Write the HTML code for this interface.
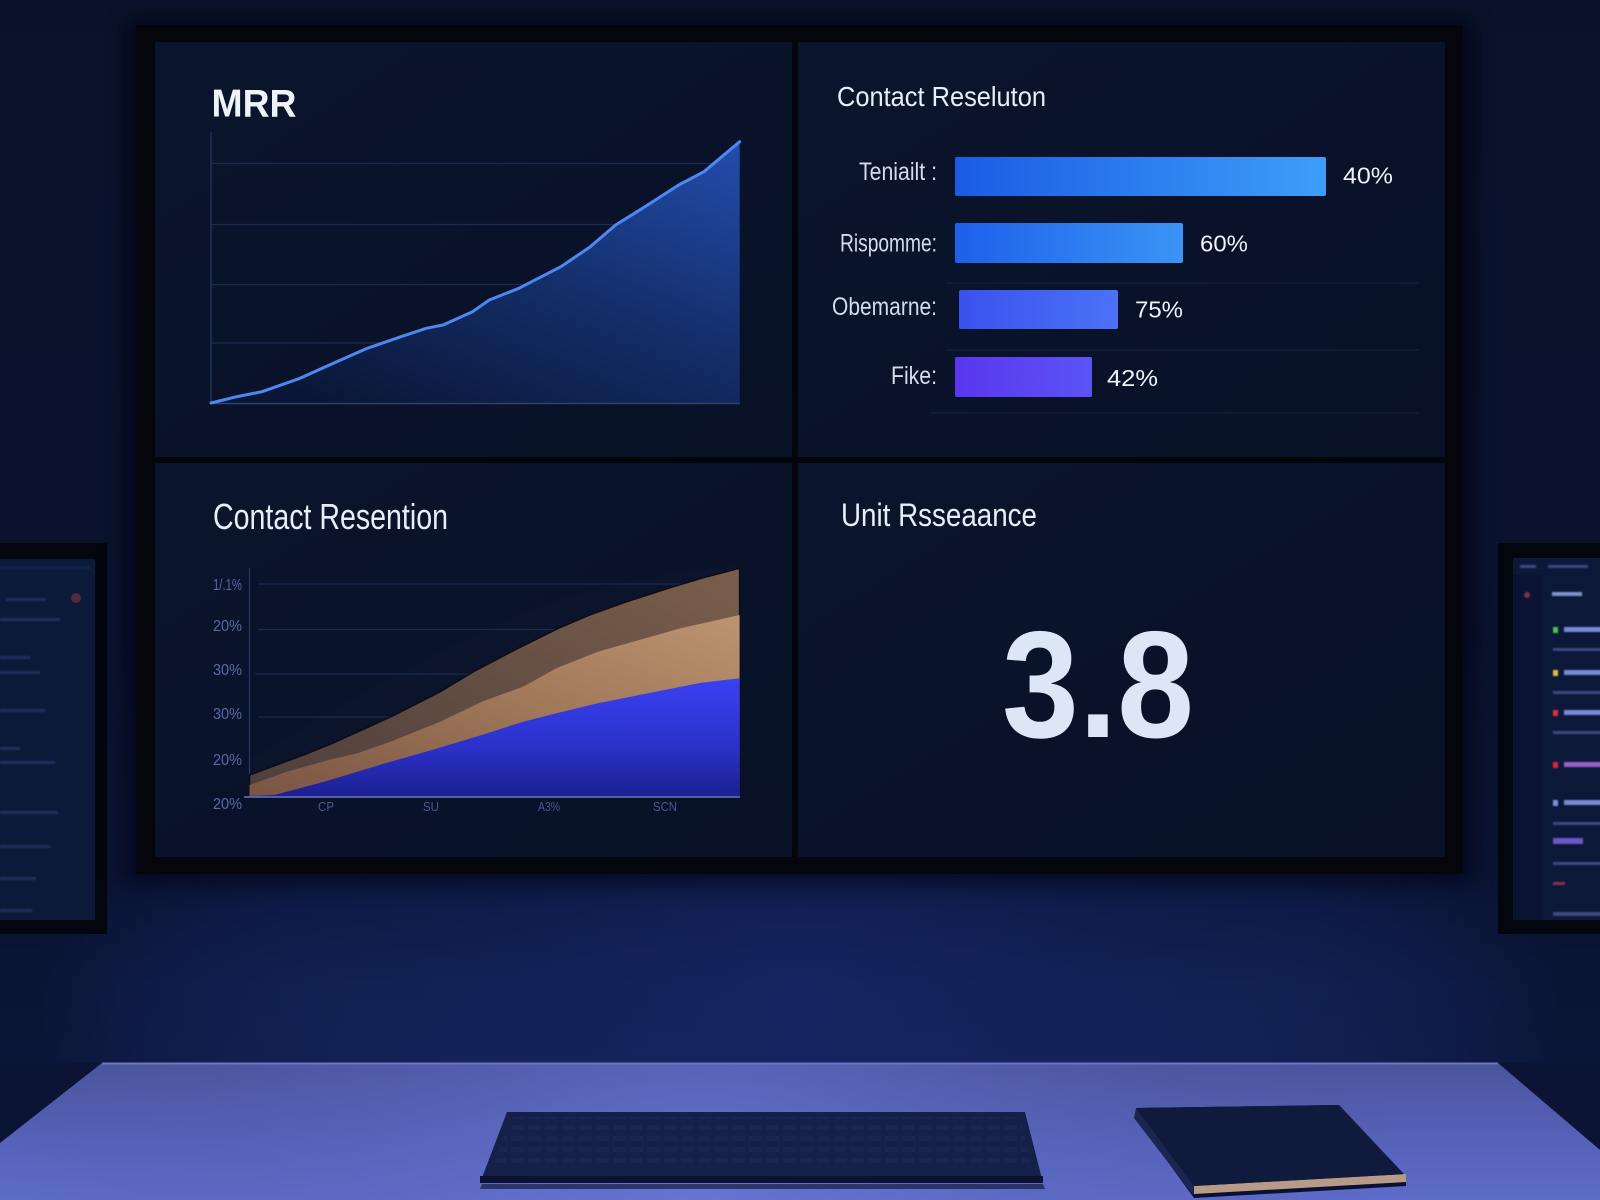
<!DOCTYPE html>
<html><head><meta charset="utf-8"><style>
html,body{margin:0;padding:0;background:#0e1934;}
svg{display:block;}
text{font-family:"Liberation Sans",sans-serif;}
</style></head><body>
<svg width="1600" height="1200" viewBox="0 0 1600 1200" xmlns="http://www.w3.org/2000/svg">
<defs>
<linearGradient id="wall" x1="0" y1="0" x2="0" y2="1">
<stop offset="0" stop-color="#0f1a36"/><stop offset="0.5" stop-color="#0e1a3c"/><stop offset="0.73" stop-color="#0c1638"/><stop offset="0.82" stop-color="#10204c"/><stop offset="0.88" stop-color="#12214f"/><stop offset="1" stop-color="#14245a"/>
</linearGradient>
<radialGradient id="glow" cx="800" cy="990" r="760" gradientUnits="userSpaceOnUse">
<stop offset="0" stop-color="#182a78" stop-opacity="0.45"/><stop offset="0.6" stop-color="#14246a" stop-opacity="0.2"/><stop offset="1" stop-color="#050a20" stop-opacity="0.5"/>
</radialGradient>
<linearGradient id="desk" x1="0" y1="0" x2="0" y2="1">
<stop offset="0" stop-color="#4a549c"/><stop offset="0.5" stop-color="#5560b6"/><stop offset="1" stop-color="#5e6cca"/>
</linearGradient>
<radialGradient id="deskg" cx="700" cy="1200" r="700" gradientUnits="userSpaceOnUse">
<stop offset="0" stop-color="#6c7ad8" stop-opacity="0.6"/><stop offset="1" stop-color="#4a549c" stop-opacity="0"/>
</radialGradient>
<linearGradient id="panel" x1="0" y1="0" x2="1" y2="1">
<stop offset="0" stop-color="#0a142c"/><stop offset="1" stop-color="#081126"/>
</linearGradient>
<linearGradient id="mrrArea" x1="1" y1="0" x2="0.2" y2="1">
<stop offset="0" stop-color="#2450b4"/><stop offset="0.5" stop-color="#15306e"/><stop offset="1" stop-color="#0a1636"/>
</linearGradient>
<linearGradient id="b1" x1="0" y1="0" x2="1" y2="0"><stop offset="0" stop-color="#1a5ce4"/><stop offset="1" stop-color="#3d9ef8"/></linearGradient>
<linearGradient id="b2" x1="0" y1="0" x2="1" y2="0"><stop offset="0" stop-color="#1d60ea"/><stop offset="1" stop-color="#3b94f5"/></linearGradient>
<linearGradient id="b3" x1="0" y1="0" x2="1" y2="0"><stop offset="0" stop-color="#3a52ee"/><stop offset="1" stop-color="#4a72f6"/></linearGradient>
<linearGradient id="b4" x1="0" y1="0" x2="1" y2="0"><stop offset="0" stop-color="#5a36ee"/><stop offset="1" stop-color="#5a54f6"/></linearGradient>
<linearGradient id="outerA" x1="0" y1="1" x2="1" y2="0"><stop offset="0" stop-color="#4e3e3c"/><stop offset="1" stop-color="#7a5e4a"/></linearGradient>
<linearGradient id="midA" x1="0" y1="1" x2="1" y2="0"><stop offset="0" stop-color="#7a5444"/><stop offset="0.6" stop-color="#a47c5c"/><stop offset="1" stop-color="#bc9472"/></linearGradient>
<linearGradient id="blueA" x1="0" y1="0" x2="0" y2="1"><stop offset="0" stop-color="#3a42f2"/><stop offset="0.6" stop-color="#2a30c8"/><stop offset="1" stop-color="#1c2090"/></linearGradient>
<pattern id="keys" x="0" y="0" width="17" height="11" patternUnits="userSpaceOnUse">
<rect x="1" y="3" width="13" height="5" rx="1" fill="#1e2a58"/>
</pattern>
<filter id="blur8" x="-20%" y="-20%" width="140%" height="140%"><feGaussianBlur stdDeviation="10"/></filter>
<filter id="blur1"><feGaussianBlur stdDeviation="0.8"/></filter>
</defs>

<!-- wall -->
<rect x="0" y="0" width="1600" height="1200" fill="url(#wall)"/>
<rect x="0" y="0" width="1600" height="1200" fill="url(#glow)"/>

<!-- desk -->
<polygon points="0,1063 102,1063 0,1143" fill="#0c1436"/>
<polygon points="1498,1063 1600,1063 1600,1150" fill="#0c1436"/>
<polygon points="102,1063 1498,1063 1600,1150 1600,1200 0,1200 0,1143" fill="url(#desk)"/>
<polygon points="102,1063 1498,1063 1600,1150 1600,1200 0,1200 0,1143" fill="url(#deskg)"/>
<line x1="102" y1="1063.5" x2="1498" y2="1063.5" stroke="#6c76c4" stroke-width="2"/>

<!-- keyboard -->
<polygon points="482,1184 1043,1184 1045,1189 480,1189" fill="#0a0f28" opacity="0.6"/>
<polygon points="507,1112 1025,1112 1043,1183 480,1183" fill="#142048"/>
<polygon points="512,1117 1020,1117 1032,1166 492,1166" fill="url(#keys)" opacity="0.5"/>
<polygon points="480,1176 1043,1176 1043,1183 480,1183" fill="#0c1232"/>

<!-- notebook -->
<polygon points="1136,1108 1339,1105 1406,1178 1406,1186 1194,1198 1136,1118" fill="#0a1130"/>
<polygon points="1194,1186 1406,1174 1406,1182 1194,1194" fill="#b89a88"/>
<polygon points="1136,1108 1339,1105 1404,1174 1194,1186" fill="#101a3c"/>
<polygon points="1136,1108 1194,1186 1194,1196 1134,1118" fill="#1a2550"/>

<!-- left monitor -->
<rect x="-10" y="543" width="117" height="391" fill="#03060d"/>
<rect x="-5" y="559" width="100" height="361" fill="#0c1a3a"/>
<g fill="#26386a" opacity="0.7" filter="url(#blur1)">
<rect x="0" y="566" width="90" height="3" opacity="0.5"/>
<rect x="6" y="598" width="40" height="3"/>
<rect x="0" y="618" width="60" height="3"/>
<rect x="0" y="656" width="30" height="3"/>
<rect x="0" y="671" width="40" height="3"/>
<rect x="0" y="709" width="45" height="3"/>
<rect x="0" y="747" width="20" height="3"/>
<rect x="0" y="761" width="55" height="3"/>
<rect x="0" y="811" width="58" height="3"/>
<rect x="0" y="845" width="50" height="3"/>
<rect x="0" y="877" width="36" height="3"/>
<rect x="0" y="909" width="32" height="3"/>
</g>
<circle cx="76" cy="598" r="5" fill="#8a3040" opacity="0.6"/>

<!-- right monitor -->
<rect x="1498" y="543" width="112" height="391" fill="#03060d"/>
<rect x="1513" y="558" width="95" height="362" fill="#0c1838"/>
<rect x="1513" y="575" width="29" height="345" fill="#0a1432"/>
<g filter="url(#blur1)">
<rect x="1520" y="565" width="16" height="3" fill="#3a4a80"/>
<rect x="1548" y="565" width="40" height="3" fill="#3a4a80"/>
<circle cx="1527" cy="595" r="3" fill="#7a3050"/>
<rect x="1552" y="592" width="30" height="4" fill="#8090d0"/>
<rect x="1553" y="627" width="5" height="6" fill="#40c850"/>
<rect x="1564" y="627" width="40" height="5" fill="#7a88d8"/>
<rect x="1553" y="648" width="50" height="3" fill="#3a4a80"/>
<rect x="1553" y="670" width="5" height="6" fill="#e0c040"/>
<rect x="1564" y="670" width="40" height="5" fill="#7a88d8"/>
<rect x="1553" y="691" width="50" height="3" fill="#3a4a80"/>
<rect x="1553" y="710" width="5" height="6" fill="#e03040"/>
<rect x="1564" y="710" width="40" height="5" fill="#7a88d8"/>
<rect x="1553" y="731" width="50" height="3" fill="#3a4a80"/>
<rect x="1553" y="762" width="5" height="6" fill="#e02040"/>
<rect x="1564" y="762" width="40" height="5" fill="#9a60c8"/>
<rect x="1553" y="800" width="5" height="6" fill="#8090e0"/>
<rect x="1564" y="800" width="40" height="5" fill="#7a88d8"/>
<rect x="1553" y="822" width="50" height="3" fill="#3a4a80"/>
<rect x="1553" y="838" width="30" height="6" fill="#6a5ac8"/>
<rect x="1553" y="862" width="50" height="3" fill="#3a4a80"/>
<rect x="1553" y="882" width="12" height="3" fill="#8a3050"/>
<rect x="1553" y="912" width="50" height="4" fill="#3a4a80"/>
</g>

<!-- main monitor shadow + bezel -->
<rect x="126" y="18" width="1347" height="866" fill="#02040a" opacity="0.6" filter="url(#blur8)"/>
<rect x="136" y="25" width="1327" height="849" fill="#04060c"/>
<rect x="155" y="42" width="637" height="415" fill="url(#panel)"/>
<rect x="798" y="42" width="647" height="415" fill="url(#panel)"/>
<rect x="155" y="463" width="637" height="394" fill="url(#panel)"/>
<rect x="798" y="463" width="647" height="394" fill="url(#panel)"/>

<!-- MRR -->
<text x="211.5" y="116.5" font-size="39" font-weight="bold" fill="#eef3fb" textLength="85" lengthAdjust="spacingAndGlyphs">MRR</text>
<g stroke="#1d2b50" stroke-width="1.2">
<line x1="211" y1="163.5" x2="740" y2="163.5"/>
<line x1="211" y1="224.5" x2="740" y2="224.5"/>
<line x1="211" y1="284.5" x2="740" y2="284.5"/>
<line x1="211" y1="343" x2="740" y2="343"/>
</g>
<line x1="211" y1="132" x2="211" y2="403" stroke="#2a3a66" stroke-width="1.2"/>
<path d="M211,403 L236.8,396.7 L262,391.7 L300,378.3 L329.4,365 L367.3,348.3 L401,336.7 L426.2,328.3 L443,325 L472.5,311.7 L489.3,300 L518.8,288.3 L560.9,266.7 L590.3,246.7 L615.6,225 L645,206.7 L678.7,185 L704,171.7 L739.7,141.7 L739.7,403 Z" fill="url(#mrrArea)" opacity="0.95"/>
<line x1="211" y1="403.5" x2="740" y2="403.5" stroke="#2e4070" stroke-width="1.5"/>
<path d="M211,403 L236.8,396.7 L262,391.7 L300,378.3 L329.4,365 L367.3,348.3 L401,336.7 L426.2,328.3 L443,325 L472.5,311.7 L489.3,300 L518.8,288.3 L560.9,266.7 L590.3,246.7 L615.6,225 L645,206.7 L678.7,185 L704,171.7 L739.7,141.7" fill="none" stroke="#4c88f2" stroke-width="3" stroke-linejoin="round" stroke-linecap="round"/>

<!-- Contact Reseluton -->
<text x="837" y="106" font-size="28" fill="#e8eef8" textLength="209" lengthAdjust="spacingAndGlyphs">Contact Reseluton</text>
<g stroke="#15203c" stroke-width="1.2">
<line x1="946" y1="283" x2="1419" y2="283"/>
<line x1="946" y1="350" x2="1419" y2="350"/>
<line x1="930" y1="413" x2="1419" y2="413"/>
</g>
<rect x="955" y="157" width="371" height="39" rx="2" fill="url(#b1)"/>
<rect x="955" y="223" width="228" height="40" rx="2" fill="url(#b2)"/>
<rect x="959" y="290" width="159" height="39" rx="2" fill="url(#b3)"/>
<rect x="955" y="357" width="137" height="40" rx="2" fill="url(#b4)"/>
<g fill="#d4dcec" font-size="25" text-anchor="end">
<text x="937" y="180" textLength="78" lengthAdjust="spacingAndGlyphs">Teniailt :</text>
<text x="937" y="251.5" textLength="97" lengthAdjust="spacingAndGlyphs">Rispomme:</text>
<text x="937" y="315" textLength="105" lengthAdjust="spacingAndGlyphs">Obemarne:</text>
<text x="937" y="384" textLength="46" lengthAdjust="spacingAndGlyphs">Fike:</text>
</g>
<g fill="#eef2fa" font-size="23">
<text x="1343" y="183.5" textLength="50" lengthAdjust="spacingAndGlyphs">40%</text>
<text x="1200" y="251.5" textLength="48" lengthAdjust="spacingAndGlyphs">60%</text>
<text x="1135" y="317.5" textLength="48" lengthAdjust="spacingAndGlyphs">75%</text>
<text x="1107" y="386" textLength="51" lengthAdjust="spacingAndGlyphs">42%</text>
</g>

<!-- Contact Resention -->
<text x="213" y="529" font-size="36" fill="#e8eef8" textLength="235" lengthAdjust="spacingAndGlyphs">Contact Resention</text>
<g stroke="#1d2a50" stroke-width="1.2">
<line x1="258" y1="584" x2="740" y2="584"/>
<line x1="258" y1="629.5" x2="740" y2="629.5"/>
<line x1="255" y1="674" x2="740" y2="674"/>
<line x1="258" y1="717" x2="740" y2="717"/>
</g>
<line x1="249.5" y1="568" x2="249.5" y2="797" stroke="#2a3866" stroke-width="1.2"/>
<path d="M249.5,760 C350,700 450,640 560,600 C640,575 700,568 739.6,566 L739.6,797 L249.5,797 Z" fill="#2a3050" opacity="0.08"/>
<path d="M249.5,775 L303.4,755 L332.4,743.3 L365.6,728.3 L394.6,715 L440.2,691.7 L473.4,671.7 L514.8,650 L558.4,628.3 L589.5,615 L626.8,601.7 L668.2,588.3 L701.4,578.3 L739.6,568.3 L739.6,797 L249.5,797 Z" fill="url(#outerA)" stroke="#0a0c18" stroke-width="1.5"/>
<path d="M249.5,785 L286.8,771.7 L328.3,760 L357.3,753.3 L390.5,741.7 L440.2,721.7 L481.7,701.7 L523.1,686.7 L556.3,668.3 L597.8,651.7 L639.2,640 L680.7,628.3 L739.6,615 L739.6,797 L249.5,797 Z" fill="url(#midA)"/>
<path d="M249.5,796 L274.4,795 L324.1,781.7 L357.3,771.7 L390.5,761.7 L431.9,750 L481.7,735 L523.1,721.7 L556.3,713.3 L597.8,703.3 L639.2,695 L680.7,686.7 L701.4,682.7 L739.6,678.3 L739.6,797 L249.5,797 Z" fill="url(#blueA)"/>
<line x1="244" y1="797" x2="740" y2="797" stroke="#5a6ab4" stroke-width="1.8"/>
<g fill="#5a6aa8" font-size="16">
<text x="213" y="590" textLength="29" lengthAdjust="spacingAndGlyphs">1/.1%</text>
<text x="213" y="631" textLength="29" lengthAdjust="spacingAndGlyphs">20%</text>
<text x="213" y="675" textLength="29" lengthAdjust="spacingAndGlyphs">30%</text>
<text x="213" y="719" textLength="29" lengthAdjust="spacingAndGlyphs">30%</text>
<text x="213" y="765" textLength="29" lengthAdjust="spacingAndGlyphs">20%</text>
<text x="213" y="809" textLength="29" lengthAdjust="spacingAndGlyphs">20%</text>
</g>
<g fill="#4a5890" font-size="13" text-anchor="middle">
<text x="326" y="811" textLength="16" lengthAdjust="spacingAndGlyphs">CP</text>
<text x="431" y="811" textLength="16" lengthAdjust="spacingAndGlyphs">SU</text>
<text x="549" y="811" textLength="22" lengthAdjust="spacingAndGlyphs">A3%</text>
<text x="665" y="811" textLength="24" lengthAdjust="spacingAndGlyphs">SCN</text>
</g>

<!-- Unit Rsseaance -->
<text x="841" y="526" font-size="32" fill="#e8eef8" textLength="196" lengthAdjust="spacingAndGlyphs">Unit Rsseaance</text>
<text x="1002" y="737" font-size="152" font-weight="bold" fill="#dce6f6" textLength="192" lengthAdjust="spacingAndGlyphs">3.8</text>
</svg>
</body></html>
